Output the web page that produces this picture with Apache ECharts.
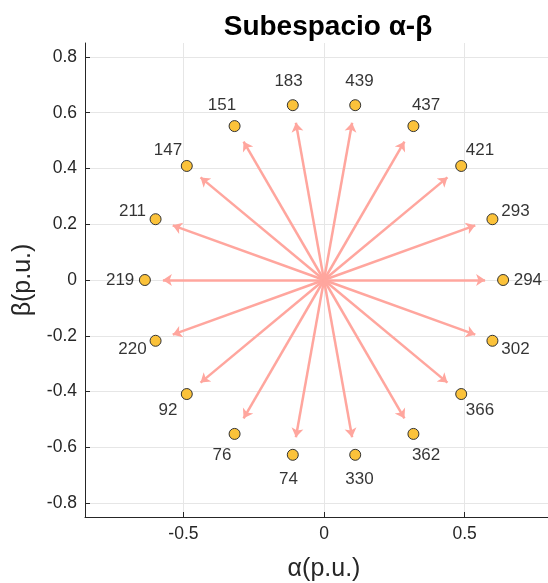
<!DOCTYPE html>
<html>
<head>
<meta charset="utf-8">
<script src="https://cdn.jsdelivr.net/npm/echarts@6/dist/echarts.min.js"></script>
<style>
  html, body { margin: 0; padding: 0; background: #fff; }
  #chart { width: 548px; height: 583px; }
</style>
</head>
<body>
<div id="chart"></div>
<script>
'use strict';

// vector positions (alpha, beta)
var alpha = [0.637, 0.599, 0.488, 0.318, 0.111, -0.111, -0.318, -0.488, -0.599,
             -0.637, -0.599, -0.488, -0.318, -0.111, 0.111, 0.318, 0.488, 0.599];
var beta  = [0, 0.218, 0.409, 0.552, 0.627, 0.627, 0.552, 0.409, 0.218,
             0, -0.218, -0.409, -0.552, -0.627, -0.627, -0.552, -0.409, -0.218];
var counts = [294, 293, 421, 437, 439, 183, 151, 147, 211,
              219, 220, 92, 76, 74, 330, 362, 366, 302];

// arrow tips
var arrowA = [0.573, 0.538, 0.439, 0.286, 0.100, -0.100, -0.286, -0.439, -0.538,
              -0.573, -0.538, -0.439, -0.286, -0.100, 0.100, 0.286, 0.439, 0.538];
var arrowB = [0, 0.196, 0.368, 0.496, 0.564, 0.564, 0.496, 0.368, 0.196,
              0, -0.196, -0.368, -0.496, -0.564, -0.564, -0.496, -0.368, -0.196];

// where the count text sits
var labelA = [0.725, 0.681, 0.555, 0.363, 0.126, -0.126, -0.363, -0.555, -0.681,
              -0.725, -0.681, -0.555, -0.363, -0.126, 0.126, 0.363, 0.555, 0.681];
var labelB = [0, 0.248, 0.466, 0.628, 0.714, 0.714, 0.628, 0.466, 0.248,
              0, -0.248, -0.466, -0.628, -0.714, -0.714, -0.628, -0.466, -0.248];

var xTicks = [-0.5, 0, 0.5];
var yTicks = [-0.8, -0.6, -0.4, -0.2, 0, 0.2, 0.4, 0.6, 0.8];

var FONT = '"Liberation Sans", Arial, sans-serif';
var INK = '#262626';

function axisOf(ticks, name, gap, rotate) {
  return {
    type: 'value',
    min: -0.85,
    max: 0.85,
    name: name,
    nameLocation: 'middle',
    nameGap: gap,
    nameRotate: rotate,
    nameTextStyle: { fontFamily: FONT, fontSize: 25, color: INK },
    axisLine: { show: true, onZero: false, lineStyle: { color: INK, width: 1 } },
    axisTick: { show: true, inside: true, length: 5, customValues: ticks,
                lineStyle: { color: INK } },
    axisLabel: { customValues: ticks, fontFamily: FONT, fontSize: 17.5, color: INK,
                 margin: 8, formatter: function (v) { return String(v); } },
    splitLine: { show: true, lineStyle: { color: '#e6e6e6', width: 1 } }
  };
}

var arrows = [];
for (var i = 0; i < arrowA.length; i++) {
  arrows.push({ coords: [[0, 0], [arrowA[i], arrowB[i]]] });
}
var points = [];
var texts = [];
for (var j = 0; j < alpha.length; j++) {
  points.push([alpha[j], beta[j]]);
  texts.push([labelA[j], labelB[j], counts[j]]);
}

var chart = echarts.init(document.getElementById('chart'), null, { renderer: 'canvas' });
chart.setOption({
  animation: false,
  title: {
    text: 'Subespacio α-β',
    left: 323,
    textAlign: 'center',
    top: 8,
    textStyle: { fontFamily: FONT, fontSize: 28, fontWeight: 'bold', color: '#000' }
  },
  grid: { left: 85, top: 43, width: 478, height: 474, outerBoundsMode: 'none' },
  xAxis: axisOf(xTicks, 'α(p.u.)', 40, 0),
  yAxis: axisOf(yTicks, 'β(p.u.)', 46, 90),
  series: [{
    type: 'lines',
    coordinateSystem: 'cartesian2d',
    symbol: ['none', 'arrow'],
    symbolSize: 9,
    lineStyle: { color: '#ffa69e', width: 2.5, opacity: 1, curveness: 0 },
    data: arrows,
    z: 2
  }, {
    type: 'scatter',
    symbol: 'circle',
    symbolSize: 11,
    itemStyle: { color: '#fbc23a', borderColor: '#333', borderWidth: 1, opacity: 1 },
    data: points,
    z: 3
  }, {
    type: 'scatter',
    symbolSize: 1,
    itemStyle: { color: 'rgba(0,0,0,0)' },
    label: {
      show: true,
      position: 'inside',
      fontFamily: FONT,
      fontSize: 17,
      color: '#000',
      formatter: function (p) { return String(p.value[2]); }
    },
    data: texts,
    z: 4
  }]
});
</script>
</body>
</html>
